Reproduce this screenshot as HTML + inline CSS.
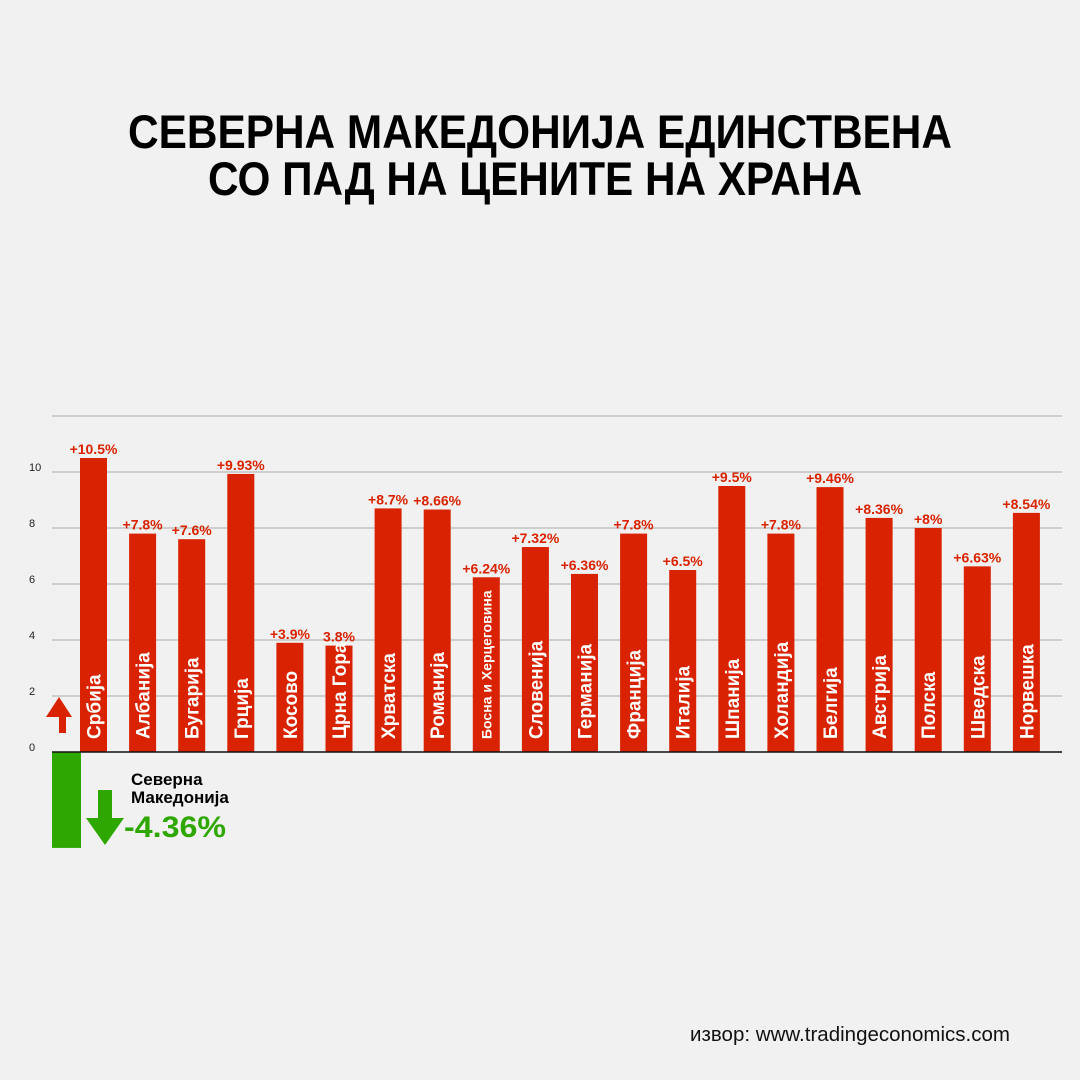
<!DOCTYPE html>
<html><head><meta charset="utf-8"><style>
html,body{margin:0;padding:0;background:#f1f1f1;}
svg{display:block;font-family:"Liberation Sans","DejaVu Sans",sans-serif;}
</style></head><body>
<svg width="1080" height="1080" viewBox="0 0 1080 1080">
<rect x="0" y="0" width="1080" height="1080" fill="#f1f1f1"/>
<g font-weight="bold" fill="#000" font-size="47">
<text x="540" y="148" text-anchor="middle" textLength="824" lengthAdjust="spacingAndGlyphs">СЕВЕРНА МАКЕДОНИЈА ЕДИНСТВЕНА</text>
<text x="535" y="195" text-anchor="middle" textLength="654" lengthAdjust="spacingAndGlyphs">СО ПАД НА ЦЕНИТЕ НА ХРАНА</text>
</g>
<g id="grid"></g>
<g id="bars"></g>
<g>
<polygon points="59,733 59,717 46,717 59,697 72,717 66,717 66,733" fill="#d92200"/>
<rect id="mkbar" x="52" y="752" width="29" height="96" fill="#2ea800"/>
<polygon points="98,790 112,790 112,818 124,818 105,845 86,818 98,818" fill="#2ea800"/>
<text x="131" y="785" font-size="17" font-weight="bold" fill="#000">Северна</text>
<text x="131" y="803" font-size="17" font-weight="bold" fill="#000">Македонија</text>
<text x="124" y="837" font-size="30" font-weight="bold" fill="#2ea800" textLength="102" lengthAdjust="spacingAndGlyphs">-4.36%</text>
</g>
<line x1="52" y1="752" x2="1062" y2="752" stroke="#111" stroke-width="1.5"/>
<text x="1010" y="1041" text-anchor="end" font-size="20" fill="#111" textLength="320" lengthAdjust="spacingAndGlyphs">извор: www.tradingeconomics.com</text>
</svg>
<script>
const categories=["Србија","Албанија","Бугарија","Грција","Косово","Црна Гора","Хрватска","Романија","Босна и Херцеговина","Словенија","Германија","Франција","Италија","Шпанија","Холандија","Белгија","Австрија","Полска","Шведска","Норвешка"];
const values=[10.5,7.8,7.6,9.93,3.9,3.8,8.7,8.66,6.24,7.32,6.36,7.8,6.5,9.5,7.8,9.46,8.36,8,6.63,8.54];
const valueLabels=["+10.5%","+7.8%","+7.6%","+9.93%","+3.9%","3.8%","+8.7%","+8.66%","+6.24%","+7.32%","+6.36%","+7.8%","+6.5%","+9.5%","+7.8%","+9.46%","+8.36%","+8%","+6.63%","+8.54%"];
const yTicks=[0,2,4,6,8,10,12];
const yTickLabels=["0","2","4","6","8","10",""];
const mkValue=-4.36;
const NS="http://www.w3.org/2000/svg";
const y0=752, pxPerUnit=28;
function yScale(v){return y0-v*pxPerUnit;}
function xScale(i){return 80+i*49.1;}
const bw=27;
const grid=document.getElementById('grid');
yTicks.forEach((t,i)=>{
  const yy=yScale(t);
  if(t!==0){
    const l=document.createElementNS(NS,'line');
    l.setAttribute('x1',52);l.setAttribute('x2',1062);l.setAttribute('y1',yy);l.setAttribute('y2',yy);
    l.setAttribute('stroke','#aaa');l.setAttribute('stroke-width','1');
    
    
    grid.appendChild(l);
  }
  if(yTickLabels[i]){
    const tx=document.createElementNS(NS,'text');
    tx.setAttribute('x',29);tx.setAttribute('y',yy-1);tx.setAttribute('font-size','11');tx.setAttribute('fill','#222');
    tx.textContent=yTickLabels[i];
    
    
    grid.appendChild(tx);
  }
});
const bars=document.getElementById('bars');
categories.forEach((c,i)=>{
  const x=xScale(i), top=yScale(values[i]);
  const r=document.createElementNS(NS,'rect');
  r.setAttribute('x',x);r.setAttribute('y',top);r.setAttribute('width',bw);r.setAttribute('height',y0-top);
  r.setAttribute('fill','#d92200');
  
  
  bars.appendChild(r);
  const v=document.createElementNS(NS,'text');
  v.setAttribute('x',x+bw/2);v.setAttribute('y',top-4);v.setAttribute('text-anchor','middle');
  v.setAttribute('font-size','14');v.setAttribute('font-weight','bold');v.setAttribute('fill','#d92200');
  v.textContent=valueLabels[i];
  
  
  bars.appendChild(v);
  const n=document.createElementNS(NS,'text');
  const small=c.length>12;
  const cx=x+bw/2+(small?5:7);
  n.setAttribute('transform','translate('+cx+',739) rotate(-90)');
  n.setAttribute('font-size',small?'14':'19');n.setAttribute('font-weight','bold');n.setAttribute('fill','#fff');
  n.textContent=c;
  
  
  bars.appendChild(n);
});
const mk=document.getElementById('mkbar');
mk.setAttribute('height',Math.abs(mkValue)*22);
</script>
</body></html>
